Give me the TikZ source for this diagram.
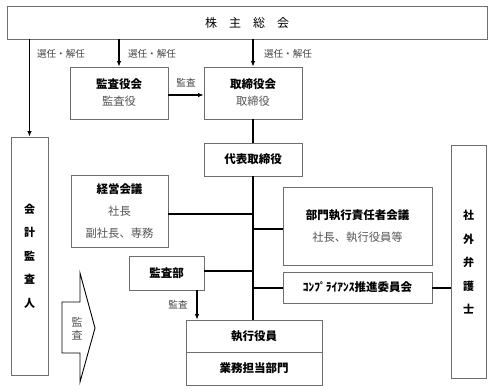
\documentclass[tikz,border=0pt]{standalone}
\usepackage{fontspec}
\setmainfont{Noto Sans CJK JP}
\usetikzlibrary{arrows.meta}
\definecolor{bordergray}{HTML}{6E6E6E}
\definecolor{subgray}{HTML}{555555}
\definecolor{labgray}{HTML}{444444}
\tikzset{
  box/.style={draw=bordergray, line width=0.7pt, fill=white, inner sep=0pt, align=center},
  ttl/.style={font=\fontsize{11.5}{17}\selectfont\bfseries},
  conn/.style={line width=1.3pt, black},
  arr/.style={conn, -{Latex[length=5.5pt,width=4.5pt]}},
  lab/.style={font=\fontsize{9.6}{11}\selectfont, text=labgray, inner sep=0pt},
  vtext/.style={font=\fontsize{11}{23.5}\selectfont\bfseries, align=center, inner sep=0pt},
}
\newcommand{\subt}[1]{{\fontsize{11.3}{17}\selectfont\mdseries\color{subgray}#1}}
\begin{document}
\begin{tikzpicture}[x=1pt,y=-1pt]
\useasboundingbox (0,0) rectangle (493,391);
% boxes
\node[box, minimum width=480, minimum height=33, font=\fontsize{12}{14}\selectfont] (soukai) at (247,22.5) {株\hspace{1em}主\hspace{1em}総\hspace{1em}会};
\node[box, minimum width=37, minimum height=238] (kaikei) at (29.5,256) {};
\node[vtext] (kaikeit) at (kaikei.center) {会\\計\\監\\査\\人};
\node[box, ttl, minimum width=98, minimum height=52] (kansa) at (119,93) {監査役会\\\subt{監査役}};
\node[box, ttl, minimum width=98, minimum height=52] (tori) at (253,93) {取締役会\\\subt{取締役}};
\node[box, ttl, minimum width=98, minimum height=33] (daihyo) at (253,159.5) {代表取締役};
\node[box, ttl, minimum width=97, minimum height=72, font=\fontsize{11.5}{22}\selectfont\bfseries] (keiei) at (119.5,211) {経営会議\\\subt{社長}\\\subt{副社長、専務}};
\node[box, ttl, minimum width=149, minimum height=78, font=\fontsize{11.5}{22}\selectfont\bfseries] (bumon) at (357.5,226) {部門執行責任者会議\\\subt{社長、執行役員等}};
\node[box, ttl, minimum width=75, minimum height=34] (kansabu) at (166.5,273) {監査部};
\node[box, ttl, minimum width=149, minimum height=31] (comp) at (357.5,287.5) {ｺﾝﾌﾟﾗｲｱﾝｽ推進委員会};
\node[box, minimum width=35, minimum height=233] (shagai) at (468.5,261.5) {};
\node[vtext] (shagait) at (468.5,262.5) {社\\外\\弁\\護\\士};
\node[box, ttl, minimum width=136, minimum height=32] (shikko) at (254,336) {執行役員};
\node[box, ttl, minimum width=136, minimum height=33] (gyomu) at (254,368.5) {業務担当部門};
% connectors
\draw[arr] (kaikei.north |- soukai.south) -- (kaikei.north);
\draw[arr] (kansa.north |- soukai.south) -- (kansa.north);
\draw[arr] (tori.north |- soukai.south) -- (tori.north);
\draw[arr] ([yshift=-2pt]kansa.east) -- ([yshift=-2pt]tori.west);
\draw[conn] (tori.south) -- (daihyo.north);
\draw[conn] (daihyo.south) -- (daihyo.south |- shikko.north);
\draw[conn] ([yshift=-3pt]keiei.east) -- ([yshift=-3pt]daihyo.south |- keiei.east);
\draw[conn] ([yshift=-3pt]daihyo.south |- bumon.west) -- ([yshift=-3pt]bumon.west);
\draw[conn] ([yshift=2pt]kansabu.east) -- ([yshift=2pt]daihyo.south |- kansabu.east);
\draw[conn] ([yshift=-0.5pt]daihyo.south |- comp.west) -- ([yshift=-0.5pt]comp.west);
\draw[conn] ([yshift=-0.5pt]comp.east) -- ([yshift=-0.5pt]shagai.west |- comp.east);
\draw[arr] ([xshift=30.5pt]kansabu.south) -- ([xshift=30.5pt]kansabu.south |- shikko.north);
% labels
\node[lab] (l1) at (61,54) {選任・解任};
\node[lab] (l2) at (152,54) {選任・解任};
\node[lab] (l3) at (288,54) {選任・解任};
\node[lab] (l4) at (186,83) {監査};
\node[lab] (l5) at (178,305) {監査};
% big hollow arrow
\draw[line width=0.9pt, black, fill=white] (62,302) -- (80,302) -- (80,273) -- (95,328) -- (80,382) -- (80,353) -- (62,353) -- cycle;
\node[font=\fontsize{11}{13}\selectfont, text=subgray, align=center, inner sep=0pt] (bigl) at (77,328.5) {監\\査};
\end{tikzpicture}
\end{document}
